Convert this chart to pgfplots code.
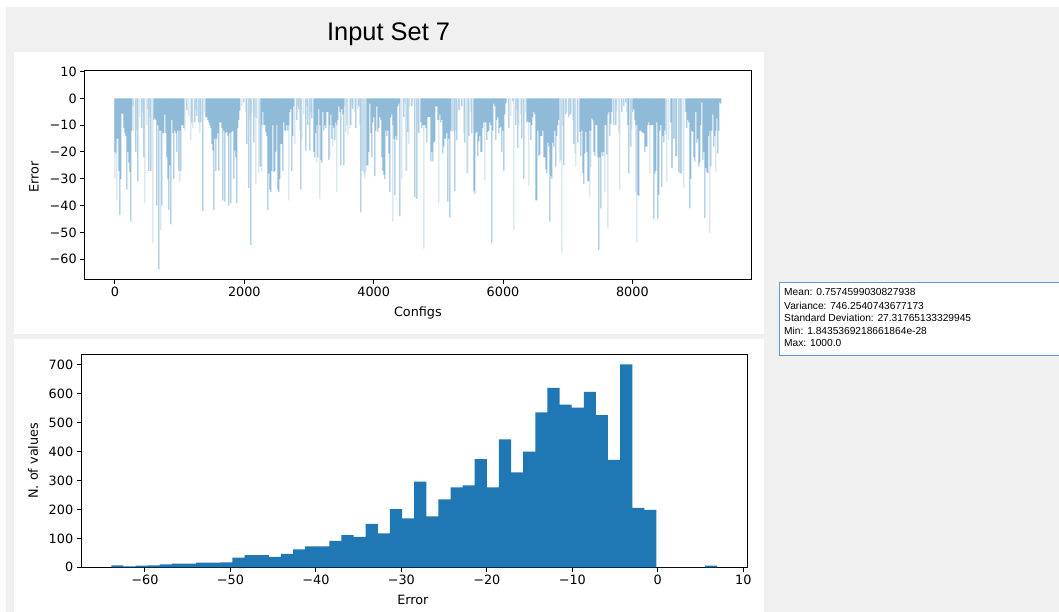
\documentclass[border=0pt]{standalone}
\usepackage{pgfplots}
\pgfplotsset{compat=1.18}
\usepackage{fontspec}
\setmainfont{DejaVu Sans}
\newfontfamily\qtfont{Liberation Sans}

\definecolor{bggray}{HTML}{F0F0F0}
\definecolor{histblue}{HTML}{1F77B4}
\definecolor{bardark}{HTML}{8FBBD9}
\definecolor{barlight}{HTML}{C7DDEC}
\definecolor{boxblue}{RGB}{86,157,229}

\pgfplotsset{
  mpl/.style={
    scale only axis, anchor=south west,
    axis line style={line width=1pt},
    tick align=outside, tick pos=left, major tick length=4.4pt,
    tick style={black, line width=1pt},
    tick label style={font=\fontsize{12.8}{15}\selectfont},
    label style={font=\fontsize{12.8}{15}\selectfont},
  },
  thinbar/.style={ybar, bar width=1.05pt, bar shift=0pt, draw=none, fill=#1},
}

\begin{document}
\begin{tikzpicture}[x=1pt,y=1pt]
\useasboundingbox (0,0) rectangle (1059,612);
\fill[white] (0,0) rectangle (1059,612);
\fill[bggray] (6,0) rectangle (1059,605);
\fill[white] (14.3,278) rectangle (764.3,560.3);
\fill[white] (14.3,0) rectangle (764,272.7);

\node[font=\qtfont\fontsize{25.4}{30}\selectfont, anchor=base, inner sep=0pt] at (388.6,571.3) {Input Set 7};

% statistics box
\fill[white] (779.3,256.3) rectangle (1059,329.7);
\draw[boxblue, line width=1pt] (1060,256.3) -- (779.3,256.3) -- (779.3,329.7) -- (1060,329.7);
\begin{scope}[every node/.style={font=\qtfont\fontsize{10.2}{12}\selectfont, anchor=base west, inner sep=0pt}]
\node at (784,316.3) {Mean: 0.7574599030827938};
\node at (784,302.7) {Variance: 746.2540743677173};
\node at (784,290.3) {Standard Deviation: 27.31765133329945};
\node at (784,277.7) {Min: 1.8435369218661864e-28};
\node at (784,265.3) {Max: 1000.0};
\end{scope}

% error per configuration
\begin{axis}[mpl,
  at={(84.6pt,332.7pt)}, width=666.6pt, height=209pt,
  xmin=-468.85, xmax=9837, ymin=-67.47, ymax=10.47,
  xtick={0,2000,4000,6000,8000}, xticklabels={0,2000,4000,6000,8000},
  ytick={-60,-50,-40,-30,-20,-10,0,10},
  yticklabels={−60,−50,−40,−30,−20,−10,0,10},
  xlabel={Configs}, ylabel={Error},
  xlabel style={at={(axis description cs:0.5,-0.161)}, anchor=center},
  ylabel style={at={(axis description cs:-0.0759,0.49)}, anchor=center},
]
\addplot[thinbar=barlight] coordinates {
(0,-30) (31,-38) (278,-3) (294,-12) (340,-12) (386,-7) (433,-5) (464,-39) (495,-10) (510,-4)
(541,-7) (587,-54) (711,-49) (1005,-31) (1082,-12) (1144,-6.5) (1175,-15.5) (1206,-11) (1252,-4)
(1314,-13) (1391,-5) (1963,-3) (2025,-5) (2087,-8) (2118,-5.5) (2164,-7) (2180,-32) (2195,-7.5)
(2226,-28) (2242,-25.5) (2273,-27.5) (2505,-19.5) (2690,-38) (2783,-17) (2829,-3) (2860,-12)
(2891,-15.5) (2922,-6) (2968,-3) (3030,-5) (3123,-24) (3169,-37.5) (3324,-22) (3370,-18)
(3432,-35) (3556,-3) (3571,-12.5) (3587,-10) (3602,-13.5) (3633,-11) (3664,-3) (3710,-5)
(3757,-4) (3788,-10) (3819,-27) (3834,-27) (3850,-28) (3865,-30) (3880,-27.5) (4298,-46)
(4437,-30) (4484,-2) (4499,-27) (4514,-27) (4545,-17) (4561,-3) (4607,-2) (4684,-12.5)
(4777,-56) (5009,-39) (5210,-12.5) (5226,-12) (5241,-12) (5272,-12) (5334,-4.5) (5396,-13)
(5442,-28) (5457,-28) (5504,-5) (5720,-30.5) (6060,-1.5) (6122,-6.5) (6169,-49) (6215,-4)
(6246,-10) (6277,-6) (6354,-5) (6400,-32.5) (6880,-24) (6895,-23) (6911,-57.5) (6926,-10)
(6988,-5) (7034,-6) (7081,-8) (7112,-20.5) (7127,-25.5) (7344,-36.6) (7359,-25.5) (7575,-35)
(7622,-48.5) (7761,-4.5) (7792,-13) (7807,-34) (7915,-5) (7993,-11.5) (8055,-35) (8070,-53.5)
(8271,-28) (8519,-13.5) (8534,-31) (8565,-15.5) (8689,-21.5) (8735,-28) (8766,-28) (8797,-33.5)
(9199,-50.3) (9291,-27.5)
};
\addplot[thinbar=bardark] coordinates {
(0,-20) (15,-20.5) (31,-15) (46,-15) (62,-27) (77,-43.5) (93,-30) (108,-5.5) (124,-6) (139,-11)
(155,-13) (170,-14) (186,-34) (201,-20) (216,-24) (232,-27.5) (247,-46) (263,-12)
(325,-20) (356,-31) (417,-11) (448,-22) (526,-27) (557,-27)
(603,-8) (618,-7.5) (634,-8) (649,-40) (665,-10) (680,-63.9) (696,-12) (711,-12) (727,-40)
(742,-13) (758,-13) (773,-6) (788,-13) (804,-22) (819,-30) (835,-41.6) (850,-25) (866,-47)
(881,-8) (897,-13) (912,-30) (928,-12) (943,-13) (958,-20) (974,-12) (989,-27) (1005,-12)
(1020,-27) (1036,-10) (1051,-10) (1067,-11)
(1113,-4.5) (1190,-9) (1237,-9) (1268,-6.5) (1299,-9) (1330,-9) (1361,-42)
(1407,-7) (1422,-7) (1438,-8) (1453,-9) (1469,-10) (1484,-11) (1500,-17) (1515,-19.5)
(1531,-41.6) (1546,-15) (1561,-27) (1577,-15) (1592,-13) (1608,-27) (1623,-9) (1639,-9)
(1654,-11) (1670,-38) (1685,-12) (1701,-38.5) (1716,-13) (1732,-12.5) (1747,-14) (1762,-40)
(1778,-13) (1793,-39) (1809,-12.5) (1824,-12) (1840,-30) (1855,-19.5) (1871,-22) (1886,-39)
(1902,-11) (1917,-8)
(1933,-4.5) (1994,-1.5) (2041,-17) (2072,-33.5) (2103,-54.6) (2149,-16.5)
(2257,-25.5) (2273,-10) (2288,-5) (2304,-10) (2319,-10) (2335,-12.5) (2350,-14) (2365,-41.6)
(2381,-28) (2396,-34) (2412,-35) (2427,-27) (2443,-10) (2458,-27.5) (2474,-27) (2489,-20)
(2505,-10) (2520,-34) (2535,-35) (2551,-30) (2566,-17) (2582,-17) (2597,-27) (2613,-9)
(2628,-12) (2644,-12) (2659,-10) (2675,-12) (2690,-10) (2706,-5) (2721,-4) (2736,-27)
(2752,-14) (2767,-3)
(2814,-8) (2845,-4) (2876,-34) (2953,-19.5) (2984,-10) (3015,-19.5) (3046,-7.5) (3077,-20)
(3092,-22) (3107,-13) (3123,-10) (3138,-22) (3154,-4) (3169,-10) (3185,-23) (3200,-24)
(3216,-5) (3231,-12) (3247,-10) (3262,-11) (3278,-5) (3293,-5) (3308,-23) (3324,-10)
(3339,-6) (3355,-15) (3370,-10) (3386,-11) (3401,-15.5) (3417,-9) (3432,-10) (3448,-8)
(3463,-3) (3478,-5) (3494,-25) (3509,-4) (3525,-6) (3540,-25)
(3649,-10) (3680,-4) (3726,-11) (3772,-3) (3803,-42.5) (3896,-25)
(3911,-25) (3927,-20) (3942,-2) (3958,-13) (3973,-22) (3989,-9) (4004,-7) (4020,-29)
(4035,-12) (4051,-3) (4066,-12.5) (4081,-11) (4097,-7) (4112,-8) (4128,-22) (4143,-27)
(4159,-28.5) (4174,-30) (4190,-12) (4205,-14) (4221,-12) (4236,-20.5) (4252,-35) (4267,-7)
(4282,-6) (4298,-10) (4313,-15) (4329,-36) (4344,-14) (4360,-15.5) (4375,-3) (4391,-2)
(4406,-44) (4468,-7) (4530,-12.5) (4592,-3) (4638,-37) (4669,-37.5) (4700,-13)
(4731,-9) (4746,-11) (4762,-10) (4777,-10) (4793,-10) (4808,-11) (4823,-16.5) (4839,-7)
(4854,-7) (4870,-7) (4885,-23.5) (4901,-20) (4916,-23.5) (4932,-16.5) (4947,-16) (4963,-3)
(4978,-3) (4994,-8) (5009,-8) (5024,-6) (5040,-9) (5055,-8) (5071,-20.5) (5086,-18)
(5102,-15) (5117,-15) (5133,-13) (5148,-38.5) (5164,-15) (5179,-44.5) (5195,-12)
(5256,-34.5) (5287,-15.5) (5318,-4.5) (5365,-3) (5411,-16.5) (5473,-14) (5519,-13) (5550,-34.6)
(5566,-35.5) (5581,-13) (5597,-12.5) (5612,-21.5) (5627,-16) (5643,-14) (5658,-20) (5674,-20)
(5689,-11) (5705,-9) (5720,-9) (5736,-9) (5751,-15.5) (5767,-12.5) (5782,-12) (5798,-9)
(5813,-10) (5829,-54) (5844,-12) (5860,-2) (5875,-3) (5890,-15.5) (5906,-8) (5921,-7)
(5937,-13) (5952,-11) (5968,-10.5) (5983,-20) (5999,-12) (6014,-27) (6029,-6) (6045,-2)
(6091,-11) (6153,-1) (6199,-10) (6230,-18.5) (6292,-15) (6323,-30)
(6369,-9) (6385,-8.5) (6400,-9) (6416,-9) (6431,-15.5) (6447,-10) (6462,-7) (6478,-5)
(6493,-6) (6509,-38) (6524,-38) (6540,-12) (6555,-21.5) (6570,-21) (6586,-14) (6601,-14)
(6617,-12) (6632,-22) (6648,-22) (6663,-26.5) (6679,-28) (6694,-16.5) (6710,-18) (6725,-46)
(6741,-29) (6756,-30) (6771,-16.5) (6787,-18) (6802,-12) (6818,-25.5) (6833,-14) (6849,-10)
(6864,-8)
(6942,-25) (6972,-6) (7019,-7) (7050,-6) (7096,-17) (7158,-16.5)
(7189,-12.5) (7204,-21.5) (7220,-12) (7235,-28) (7251,-32) (7266,-20.5) (7282,-12.5) (7297,-20)
(7313,-31) (7328,-31) (7344,-12) (7359,-12) (7374,-7.5) (7390,-8) (7405,-20) (7421,-21.5)
(7436,-10) (7452,-10) (7467,-22) (7483,-56.5) (7498,-22) (7514,-41) (7529,-20) (7544,-21.5)
(7560,-20) (7575,-10) (7591,-10) (7606,-21) (7622,-6) (7637,-5) (7653,-14) (7668,-9.5)
(7684,-5)
(7714,-10) (7745,-10) (7838,-5) (7869,-3) (7900,-1.5) (7931,-10) (7946,-28) (7977,-18)
(8008,-5) (8024,-4) (8039,-8) (8055,-10) (8070,-10) (8086,-36) (8101,-36.5) (8117,-12)
(8132,-12) (8148,-12.5) (8163,-13) (8178,-13) (8194,-20) (8209,-18) (8225,-18) (8240,-10)
(8256,-9) (8271,-10) (8287,-10) (8302,-10) (8317,-10) (8333,-45) (8348,-28) (8364,-27)
(8379,-9) (8395,-45) (8410,-36) (8426,-12) (8441,-10) (8457,-33) (8472,-14) (8488,-16.5)
(8503,-12)
(8596,-9) (8612,-26) (8643,-15) (8674,-21.5) (8720,-27.5) (8751,-28)
(8828,-5) (8843,-11) (8859,-8) (8874,-9) (8890,-41) (8905,-30) (8920,-12) (8936,-12.5)
(8951,-22) (8967,-23.5) (8982,-5) (8998,-16.5) (9013,-15) (9029,-25.5) (9044,-24) (9060,-10)
(9075,-1.5) (9091,-23) (9106,-20) (9121,-44.7) (9137,-26) (9152,-27.5) (9168,-28) (9183,-14)
(9199,-12) (9214,-25.5) (9230,-12) (9245,-6) (9261,-18) (9276,-14) (9291,-12) (9307,-7.5)
(9322,-20.5) (9338,-12) (9353,-1.5) (9369,-2)
};
\end{axis}

% histogram of the errors
\begin{axis}[mpl,
  at={(81.1pt,44.7pt)}, width=666.2pt, height=213pt,
  xmin=-67.47, xmax=10.47, ymin=0, ymax=736,
  xtick={-60,-50,-40,-30,-20,-10,0,10},
  xticklabels={−60,−50,−40,−30,−20,−10,0,10},
  ytick={0,100,200,300,400,500,600,700},
  yticklabels={0,100,200,300,400,500,600,700},
  xlabel={Error}, ylabel={N. of values},
  xlabel style={at={(axis description cs:0.498,-0.1535)}, anchor=center},
  ylabel style={at={(axis description cs:-0.0722,0.5)}, anchor=center},
]
\addplot[const plot, fill=histblue, draw=none] coordinates {
(-63.93,7) (-62.51,3) (-61.10,6) (-59.68,7) (-58.26,10) (-56.84,13) (-55.43,13) (-54.01,16)
(-52.59,16) (-51.18,17) (-49.76,33) (-48.34,42) (-46.92,42) (-45.51,36) (-44.09,46)
(-42.67,62) (-41.26,72) (-39.84,72) (-38.42,91) (-37.01,111) (-35.59,105) (-34.17,150)
(-32.75,117) (-31.34,201) (-29.92,169) (-28.50,296) (-27.09,176) (-25.67,235) (-24.25,276)
(-22.83,283) (-21.42,374) (-20.00,276) (-18.58,442) (-17.17,328) (-15.75,400) (-14.33,535)
(-12.91,620) (-11.50,562) (-10.08,552) (-8.66,606) (-7.25,526) (-5.83,371) (-4.41,701)
(-2.99,205) (-1.58,198) (-0.16,0) (1.26,0) (2.68,0) (4.09,0) (5.51,6) (6.93,6)
} \closedcycle;
\end{axis}
\end{tikzpicture}
\end{document}
